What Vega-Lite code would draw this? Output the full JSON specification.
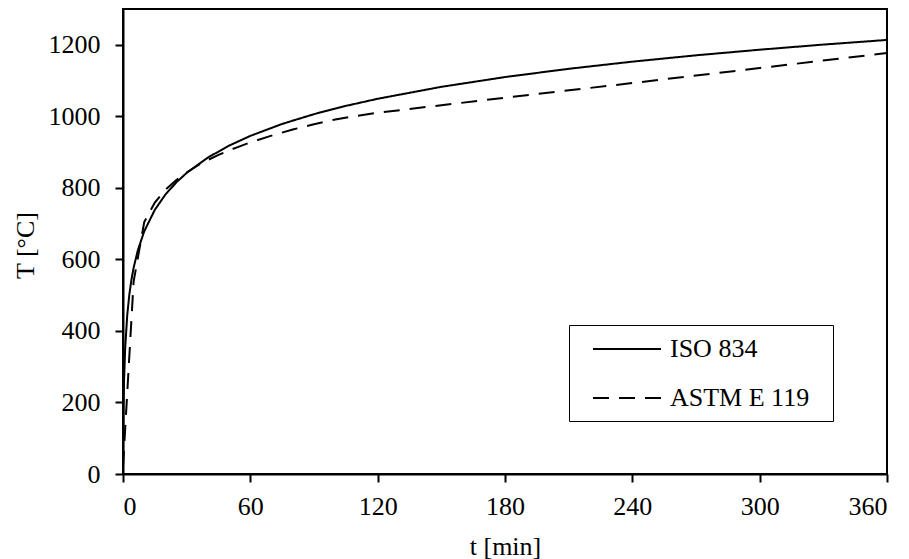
{
  "$schema": "https://vega.github.io/schema/vega-lite/v6.json",
  "autosize": {"type": "none"},
  "padding": {"left": 123, "top": 9, "right": 22, "bottom": 85},
  "width": 764,
  "height": 465,
  "background": "white",
  "config": {
    "view": {"stroke": "black", "strokeWidth": 2},
    "font": "Liberation Serif",
    "axis": {
      "grid": false,
      "domainColor": "black",
      "domainWidth": 2,
      "tickColor": "black",
      "tickWidth": 2,
      "tickSize": 8,
      "labelFont": "Liberation Serif",
      "labelFontSize": 26,
      "labelColor": "black",
      "titleFont": "Liberation Serif",
      "titleFontSize": 26,
      "titleFontWeight": "normal",
      "titleColor": "black",
      "format": "d"
    },
    "legend": {
      "labelFont": "Liberation Serif",
      "labelFontSize": 26,
      "labelColor": "black"
    }
  },
  "data": {
    "values": [
      {"t": 0, "T": 20, "curve": "ISO 834"},
      {"t": 0.25, "T": 184.6, "curve": "ISO 834"},
      {"t": 0.5, "T": 261.1, "curve": "ISO 834"},
      {"t": 1, "T": 349.2, "curve": "ISO 834"},
      {"t": 2, "T": 444.5, "curve": "ISO 834"},
      {"t": 3, "T": 502.3, "curve": "ISO 834"},
      {"t": 4, "T": 543.9, "curve": "ISO 834"},
      {"t": 5, "T": 576.4, "curve": "ISO 834"},
      {"t": 7, "T": 625.8, "curve": "ISO 834"},
      {"t": 10, "T": 678.4, "curve": "ISO 834"},
      {"t": 15, "T": 738.6, "curve": "ISO 834"},
      {"t": 20, "T": 781.4, "curve": "ISO 834"},
      {"t": 25, "T": 814.6, "curve": "ISO 834"},
      {"t": 30, "T": 841.8, "curve": "ISO 834"},
      {"t": 40, "T": 884.7, "curve": "ISO 834"},
      {"t": 50, "T": 918.1, "curve": "ISO 834"},
      {"t": 60, "T": 945.3, "curve": "ISO 834"},
      {"t": 75, "T": 978.7, "curve": "ISO 834"},
      {"t": 90, "T": 1006.0, "curve": "ISO 834"},
      {"t": 105, "T": 1029.1, "curve": "ISO 834"},
      {"t": 120, "T": 1049.0, "curve": "ISO 834"},
      {"t": 150, "T": 1082.4, "curve": "ISO 834"},
      {"t": 180, "T": 1109.7, "curve": "ISO 834"},
      {"t": 210, "T": 1132.8, "curve": "ISO 834"},
      {"t": 240, "T": 1152.8, "curve": "ISO 834"},
      {"t": 270, "T": 1170.5, "curve": "ISO 834"},
      {"t": 300, "T": 1186.2, "curve": "ISO 834"},
      {"t": 330, "T": 1200.5, "curve": "ISO 834"},
      {"t": 360, "T": 1213.5, "curve": "ISO 834"},
      {"t": 0, "T": 20, "curve": "ASTM E 119"},
      {"t": 5, "T": 538, "curve": "ASTM E 119"},
      {"t": 10, "T": 704, "curve": "ASTM E 119"},
      {"t": 15, "T": 759, "curve": "ASTM E 119"},
      {"t": 20, "T": 795, "curve": "ASTM E 119"},
      {"t": 25, "T": 821, "curve": "ASTM E 119"},
      {"t": 30, "T": 843, "curve": "ASTM E 119"},
      {"t": 35, "T": 862, "curve": "ASTM E 119"},
      {"t": 40, "T": 878, "curve": "ASTM E 119"},
      {"t": 45, "T": 892, "curve": "ASTM E 119"},
      {"t": 50, "T": 905, "curve": "ASTM E 119"},
      {"t": 55, "T": 916, "curve": "ASTM E 119"},
      {"t": 60, "T": 927, "curve": "ASTM E 119"},
      {"t": 70, "T": 946, "curve": "ASTM E 119"},
      {"t": 80, "T": 963, "curve": "ASTM E 119"},
      {"t": 90, "T": 978, "curve": "ASTM E 119"},
      {"t": 100, "T": 991, "curve": "ASTM E 119"},
      {"t": 110, "T": 1001, "curve": "ASTM E 119"},
      {"t": 120, "T": 1010, "curve": "ASTM E 119"},
      {"t": 180, "T": 1052, "curve": "ASTM E 119"},
      {"t": 240, "T": 1093, "curve": "ASTM E 119"},
      {"t": 300, "T": 1135, "curve": "ASTM E 119"},
      {"t": 360, "T": 1177, "curve": "ASTM E 119"}
    ]
  },
  "mark": {"type": "line", "color": "black", "strokeWidth": 2, "clip": true},
  "encoding": {
    "x": {
      "field": "t", "type": "quantitative",
      "scale": {"domain": [0, 360], "nice": false, "zero": false},
      "axis": {"values": [0, 60, 120, 180, 240, 300, 360], "title": "t [min]", "labelPadding": 11, "titleY": 80, "titleBaseline": "alphabetic", "titleColor": "black"}
    },
    "y": {
      "field": "T", "type": "quantitative",
      "scale": {"domain": [0, 1300], "nice": false},
      "axis": {"values": [0, 200, 400, 600, 800, 1000, 1200], "title": "T [°C]", "labelPadding": 15, "titleX": -90, "titleY": 236, "titleBaseline": "alphabetic", "titleColor": "black"}
    },
    "strokeDash": {
      "field": "curve", "type": "nominal",
      "scale": {"domain": ["ISO 834", "ASTM E 119"], "range": [[1, 0], [16, 10]]},
      "legend": {
        "title": null,
        "orient": "none",
        "legendX": 446,
        "legendY": 316,
        "strokeColor": "black",
        "padding": 10,
        "rowPadding": 22,
        "symbolType": "M-1,0H4.2308",
        "symbolSize": 676,
        "symbolOffset": 13,
        "symbolStrokeWidth": 2,
        "symbolStrokeColor": "black",
        "symbolFillColor": "transparent",
        "labelOffset": 50,
        "labelExpr": "datum.label + '\u00a0\u00a0\u200b'"
      }
    }
  }
}
